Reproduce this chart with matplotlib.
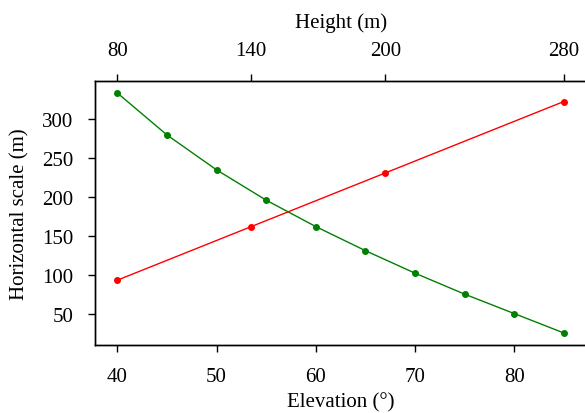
import matplotlib
matplotlib.use("Agg")
import matplotlib.pyplot as plt

plt.rcParams['font.family'] = ['Liberation Serif', 'DejaVu Serif']
plt.rcParams['font.size'] = 15

# elevation series (bottom axis)
elevation = [40, 45, 50, 55, 60, 65, 70, 75, 80, 85]
scale_by_elev = [334, 280, 235, 196, 162, 131, 102, 75, 50, 25]

# height series (top axis)
height = [80, 140, 200, 280]
scale_by_height = [93, 162, 231, 323]
height_ticks = [80, 140, 200, 280]

fig = plt.figure(figsize=(5.85, 4.14), dpi=100)
ax = fig.add_axes([0.1624, 0.1643, 0.8396, 0.6377])

ax.plot(elevation, scale_by_elev, color='green', lw=1, marker='o', markersize=4)
ax.set_xlabel('Elevation (°)', labelpad=5)
ax.set_ylabel('Horizontal scale (m)', labelpad=9)
ax.set_xticks([40, 50, 60, 70, 80])
ax.set_yticks([50, 100, 150, 200, 250, 300])
ax.tick_params(direction='out', length=5, width=1, pad=10.5)

ax2 = ax.twiny()
ax2.plot(height, scale_by_height, color='red', lw=1, marker='o', markersize=4)
ax2.set_xticks(height_ticks)
ax2.set_xlabel('Height (m)', labelpad=10.5)
ax2.tick_params(direction='out', length=5, width=1, pad=10)

for a in (ax, ax2):
    for s in a.spines.values():
        s.set_linewidth(1)

fig.savefig('out.png', dpi=100)
